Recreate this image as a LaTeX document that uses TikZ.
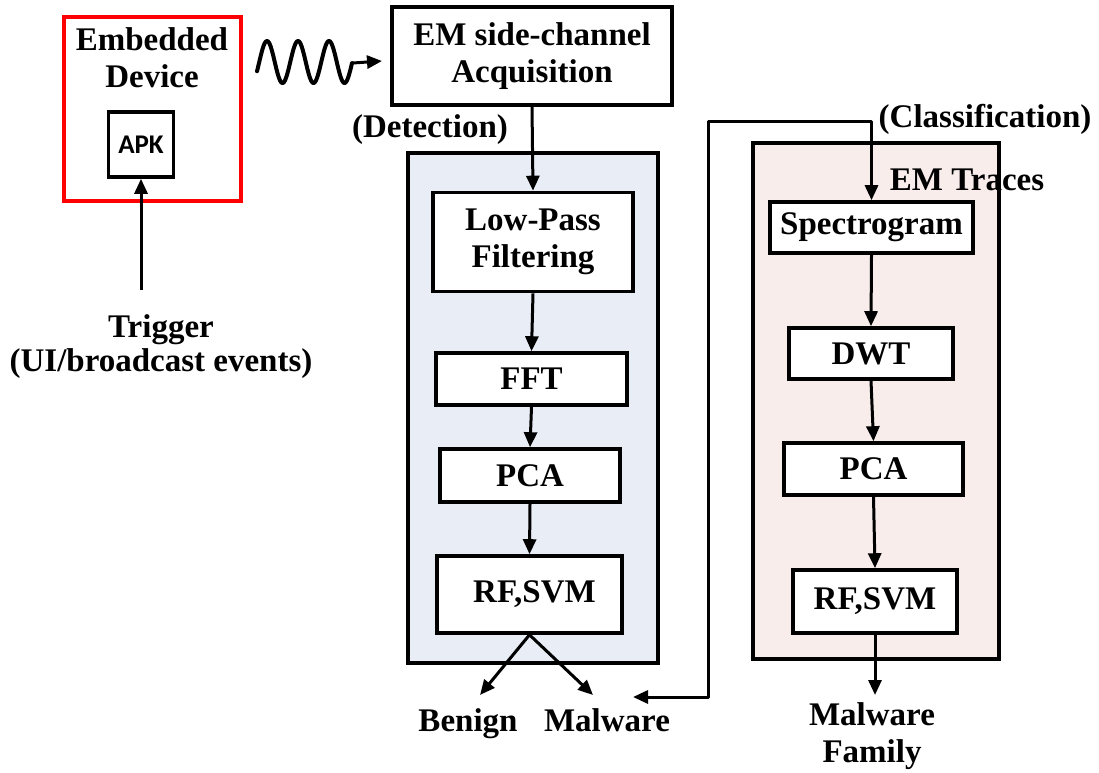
\documentclass[tikz,border=0pt]{standalone}
\usepackage{fontspec}
\setmainfont{Liberation Serif}
\newfontfamily\apkfont{Carlito}
\usetikzlibrary{arrows.meta}
\definecolor{detfill}{RGB}{233,237,245}
\definecolor{clsfill}{RGB}{249,237,236}
\definecolor{devred}{RGB}{255,0,0}
\begin{document}
\begin{tikzpicture}[x=1pt,y=-1pt,
  txt/.style={font=\bfseries\fontsize{33}{37}\selectfont},
  box/.style={draw, line width=3.6pt, fill=white, align=center, inner sep=0pt, txt},
  panel/.style={draw, line width=3.6pt, inner sep=0pt},
  lab/.style={align=center, inner sep=0pt, txt},
  arr/.style={line width=3pt, -{Triangle[length=15pt,width=13pt]}},
  arrboth/.style={line width=3pt, {Triangle[length=15pt,width=13pt]}-{Triangle[length=15pt,width=13pt]}}]
\useasboundingbox (0,0) rectangle (1099,772);

% embedded device
\node[panel, draw=devred, minimum width=177pt, minimum height=184pt] (dev) at (152.5,109) {};
\node[lab] (devlab) at (152,58) {Embedded\\Device};
\node[draw, line width=3.6pt, fill=white, minimum width=65pt, minimum height=65pt, inner sep=0pt,
      font=\apkfont\bfseries\fontsize{27}{30}\selectfont] (apk) at (141,144.5) {APK};
\node[lab, font=\bfseries\fontsize{33}{34}\selectfont] (trig) at (161,347) {Trigger\\(UI/broadcast events)};
\coordinate (tstart) at (141,290);
\draw[arr] (tstart) -- (apk.south);

% EM acquisition
\node[box, minimum width=280pt, minimum height=98pt] (em) at (532,56) {EM side-channel\\Acquisition};
\coordinate (wend) at (382,61);
\draw[line width=4pt, line cap=round, line join=round] plot[domain=257:352, samples=120] (\x,{62-21*sin((\x-259.25)*11.6129)}) coordinate (wstart);
\draw[arr] (wstart) -- (wend);

% detection panel
\node[panel, fill=detfill, minimum width=250pt, minimum height=510pt] (det) at (533,408) {};
\node[lab] (detlab) at (430,130) {(Detection)};
\node[box, minimum width=200pt, minimum height=99pt] (lp) at (533,242) {Low-Pass\\Filtering};
\node[box, minimum width=191pt, minimum height=52pt] (fft) at (531.5,379) {FFT};
\node[box, minimum width=180pt, minimum height=53pt] (pcaA) at (530,475.5) {PCA};
\node[box, minimum width=185pt, minimum height=77pt] (rfA) at (529.5,594.5) {\hspace*{10pt}RF,SVM};
\draw[arr] (em.south) -- (lp.north);
\draw[arr] (lp.south) -- (fft.north);
\draw[arr] (fft.south) -- (pcaA.north);
\draw[arr] (pcaA.south) -- (rfA.north);
\coordinate (bentip) at (480,695);
\coordinate (maltip) at (593,695);
\draw[arr] (rfA.south) -- (bentip);
\draw[arr] (rfA.south) -- (maltip);
\node[lab, anchor=base] (benign) at (468,731) {Benign};
\node[lab, anchor=base] (malA) at (607,731) {Malware};

% classification panel
\node[panel, fill=clsfill, minimum width=246pt, minimum height=516pt] (cls) at (876,401) {};
\node[lab] (clslab) at (985,119) {(Classification)};
\node[lab] (emtr) at (967,180) {EM Traces};
\node[box, minimum width=203pt, minimum height=51pt] (spec) at (871.5,227.5) {Spectrogram};
\node[box, minimum width=164pt, minimum height=51pt] (dwt) at (871,353.5) {DWT};
\node[box, minimum width=179pt, minimum height=52pt] (pcaB) at (873.5,469) {PCA};
\node[box, minimum width=164pt, minimum height=63pt] (rfB) at (875,601.5) {RF,SVM};
\draw[arr] (spec.south) -- (dwt.north);
\draw[arr] (dwt.south) -- (pcaB.north);
\draw[arr] (pcaB.south) -- (rfB.north);
\coordinate (famtip) at (875,695);
\draw[arr] (rfB.south) -- (famtip);
\node[lab] (fam) at (872,736) {Malware\\Family};

% loop connector
\coordinate (looptip) at (633,697);
\coordinate (loopcorner) at (708,121);
\draw[arrboth, line join=round] (looptip) -| (loopcorner) -| (spec.north);
\end{tikzpicture}
\end{document}
